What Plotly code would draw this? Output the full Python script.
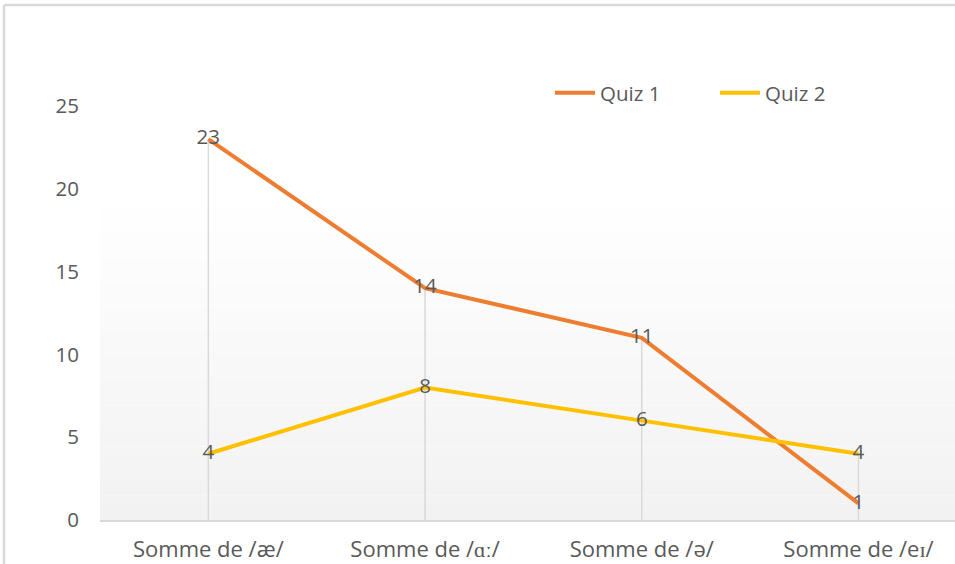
import plotly.graph_objects as go

categories = ["Somme de /æ/", "Somme de /ɑː/", "Somme de /ə/", "Somme de /eɪ/"]
quiz1 = [23, 14, 11, 1]
quiz2 = [4, 8, 6, 4]
y_ticks = [0, 5, 10, 15, 20, 25]

W, H = 955, 564
L, T, B = 100, 106, 44
plot_w = W - L
plot_h = H - T - B

FONT = "Open Sans"
TXT = "#595959"
FS = 20.5

fig = go.Figure()

# drop lines (from highest value to axis)
dx, dy = [], []
for i, c in enumerate(categories):
    dx += [c, c, None]
    dy += [max(quiz1[i], quiz2[i]), 0, None]
fig.add_trace(go.Scatter(x=dx, y=dy, mode="lines", line=dict(color="#d9d9d9", width=1.5),
                         showlegend=False, hoverinfo="skip"))

fig.add_trace(go.Scatter(x=categories, y=quiz1, name="Quiz 1", mode="lines+text",
                         text=[str(v) for v in quiz1], textposition="middle center",
                         textfont=dict(color=TXT, size=FS, family=FONT),
                         line=dict(color="#ED7D31", width=4)))
fig.add_trace(go.Scatter(x=categories, y=quiz2, name="Quiz 2", mode="lines+text",
                         text=[str(v) for v in quiz2], textposition="middle center",
                         textfont=dict(color=TXT, size=FS, family=FONT),
                         line=dict(color="#FFC000", width=4)))

# gradient background of plot area (white -> light gray)
shapes = []
n = 40
g_top = (520 - 193) / plot_h
for k in range(n):
    y0 = g_top * k / n
    y1 = g_top * (k + 1) / n
    t = 1 - (k + 0.5) / n
    v = int(round(255 - (255 - 242) * t))
    shapes.append(dict(type="rect", xref="paper", yref="paper", x0=0, x1=1, y0=y0, y1=y1,
                       fillcolor=f"rgb({v},{v},{v})", line=dict(width=0), layer="below"))
# chart border (top & left)
bx = (4 - L) / plot_w
by = (520 - 5) / plot_h
shapes.append(dict(type="line", xref="paper", yref="paper", x0=bx, x1=1.01, y0=by, y1=by,
                   line=dict(color="#d9d9d9", width=2.5)))
shapes.append(dict(type="line", xref="paper", yref="paper", x0=bx, x1=bx, y0=by, y1=-0.2,
                   line=dict(color="#d9d9d9", width=2.5)))

fig.update_layout(
    width=W, height=H,
    margin=dict(l=L, r=0, t=T, b=B),
    paper_bgcolor="white", plot_bgcolor="rgba(0,0,0,0)",
    font=dict(family=FONT, color=TXT, size=FS),
    shapes=shapes,
    showlegend=True,
    legend=dict(orientation="h", x=(550 - L) / plot_w, xanchor="left",
                y=(520 - 93) / plot_h, yanchor="middle",
                font=dict(size=FS, color=TXT, family=FONT), bgcolor="rgba(0,0,0,0)",
                itemwidth=40, entrywidth=110),
    xaxis=dict(type="category", categoryorder="array", categoryarray=categories,
               range=[-0.5, -0.5 + plot_w / 216.7], showgrid=False, zeroline=False,
               showline=True, linecolor="#d9d9d9", linewidth=1.5, ticks="",
               ticklabelstandoff=9,
               tickfont=dict(size=22, color=TXT, family=FONT)),
    yaxis=dict(range=[0, 25], tickvals=y_ticks, showgrid=False, zeroline=False,
               showline=False, ticks="", ticklabelstandoff=20,
               tickfont=dict(size=FS, color=TXT, family=FONT)),
)

fig.write_html("out.html", config={"displayModeBar": False},
               post_script="document.body.style.margin='0';document.body.style.overflow='hidden';")
